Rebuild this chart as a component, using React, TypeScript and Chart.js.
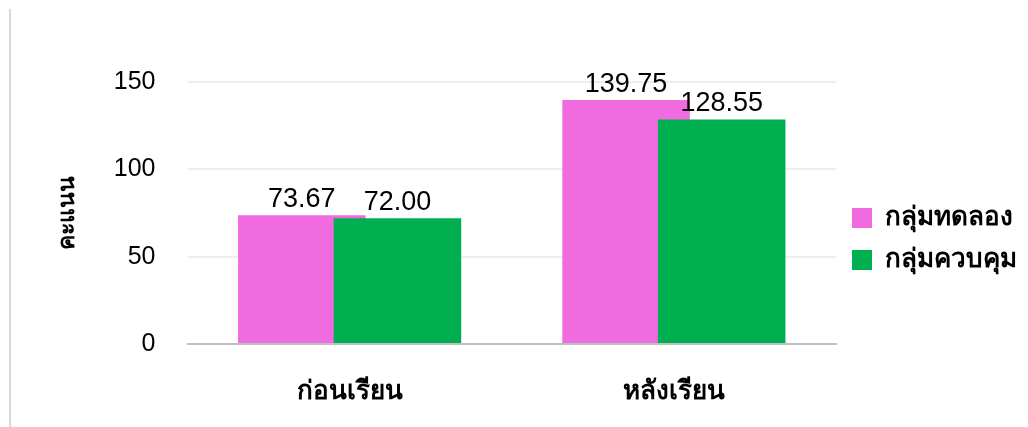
import React, { useEffect, useRef } from "react";
import { Chart, registerables } from "chart.js";

Chart.register(...registerables);

const categories = ["ก่อนเรียน", "หลังเรียน"];
const seriesNames = ["กลุ่มทดลอง", "กลุ่มควบคุม"];
const experimentValues = [73.67, 139.75];
const controlValues = [72.0, 128.55];
const seriesColors = ["#F06AE0", "#00B050"];
const yTicks = [0, 50, 100, 150];
const yTitle = "คะแนน";

const FONT = "'Liberation Sans', 'Noto Sans', sans-serif";

// Draw datasets in their natural order (green over pink) and add value labels.
const orderedBars = {
  id: "orderedBars",
  beforeDatasetsDraw(chart: any) {
    const ctx = chart.ctx;
    chart.data.datasets.forEach((_ds: any, i: number) => {
      const meta = chart.getDatasetMeta(i);
      if (meta.visible !== false && !meta.hidden) meta.controller.draw();
    });
    ctx.save();
    ctx.font = `27px ${FONT}`;
    ctx.fillStyle = "#000";
    ctx.textAlign = "center";
    ctx.textBaseline = "alphabetic";
    chart.data.datasets.forEach((ds: any, i: number) => {
      const meta = chart.getDatasetMeta(i);
      meta.data.forEach((bar: any, j: number) => {
        ctx.fillText(Number(ds.data[j]).toFixed(2), bar.x, bar.y - 8);
      });
    });
    ctx.restore();
    return false;
  },
};

const frameLine = {
  id: "frameLine",
  beforeDraw(chart: any) {
    const ctx = chart.ctx;
    ctx.save();
    ctx.strokeStyle = "#d9d9d9";
    ctx.lineWidth = 2;
    ctx.beginPath();
    ctx.moveTo(10, 9);
    ctx.lineTo(10, chart.height);
    ctx.stroke();
    ctx.restore();
  },
};

export default function App() {
  const ref = useRef<HTMLCanvasElement | null>(null);
  useEffect(() => {
    if (!ref.current) return;
    const chart = new Chart(ref.current, {
      type: "bar",
      data: {
        labels: categories,
        datasets: [
          {
            label: seriesNames[0],
            data: experimentValues,
            backgroundColor: seriesColors[0],
            categoryPercentage: 0.59,
            barPercentage: 1.333,
          },
          {
            label: seriesNames[1],
            data: controlValues,
            backgroundColor: seriesColors[1],
            categoryPercentage: 0.59,
            barPercentage: 1.333,
          },
        ],
      },
      options: {
        animation: false,
        responsive: false,
        maintainAspectRatio: false,
        layout: { padding: { left: 26, right: 1, top: 82, bottom: -13 } },
        plugins: {
          tooltip: { enabled: false },
          legend: {
            position: "right",
            align: "start",
            title: {
              display: true,
              text: " ",
              padding: { top: 92.6, bottom: 0 },
              font: { size: 12 },
            },
            labels: {
              boxWidth: 20,
              boxHeight: 20,
              padding: 16,
              color: "#000",
              font: { family: FONT, size: 26, weight: "bold" },
            },
          },
        },
        scales: {
          x: {
            grid: { display: false, drawTicks: false },
            border: { display: true, color: "#bfbfbf", width: 2 },
            ticks: {
              color: "#000",
              padding: 32.4,
              font: { family: FONT, size: 26, weight: "bold" },
            },
          },
          y: {
            min: 0,
            max: 150,
            afterBuildTicks: (axis: any) => {
              axis.ticks = yTicks.map((v) => ({ value: v }));
            },
            grid: { color: "#eeeeee", lineWidth: 2, drawTicks: false },
            border: { display: false },
            ticks: {
              color: "#000",
              padding: 32,
              font: { family: FONT, size: 25 },
            },
            title: {
              display: true,
              text: yTitle,
              color: "#000",
              padding: { top: 28.2, bottom: 0 },
              font: { family: FONT, size: 23, weight: "bold" },
            },
          },
        },
      },
      plugins: [orderedBars, frameLine],
    });
    return () => chart.destroy();
  }, []);
  return (
    <div style={{ position: "fixed", left: 0, top: 0, width: 1028, height: 427, background: "#fff" }}>
      <canvas ref={ref} width={1028} height={427} style={{ width: 1028, height: 427 }} />
    </div>
  );
}
